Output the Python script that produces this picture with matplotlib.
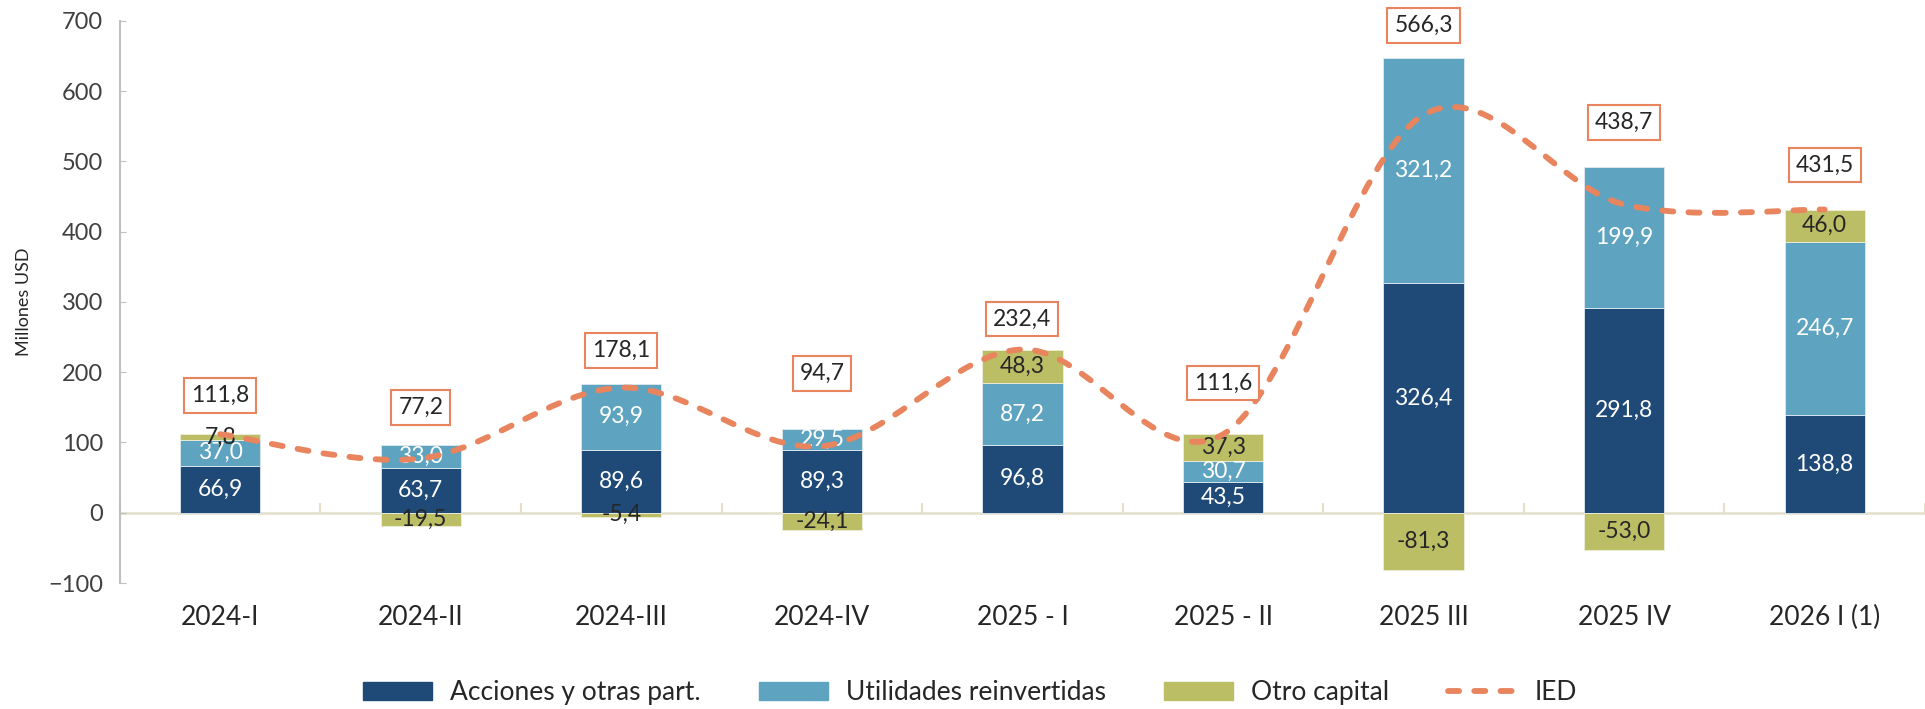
import numpy as np
import matplotlib
matplotlib.use("Agg")
import matplotlib.pyplot as plt
from matplotlib.path import Path
from matplotlib.patches import PathPatch, Patch
from matplotlib.lines import Line2D

plt.rcParams['font.family'] = ['Lato', 'DejaVu Sans']

# --- data ---
periodos = ['2024-I', '2024-II', '2024-III', '2024-IV', '2025 - I', '2025 - II',
            '2025 III', '2025 IV', '2026 I (1)']
acciones = [66.9, 63.7, 89.6, 89.3, 96.8, 43.5, 326.4, 291.8, 138.8]
utilidades = [37.0, 33.0, 93.9, 29.5, 87.2, 30.7, 321.2, 199.9, 246.7]
otro = [7.8, -19.5, -5.4, -24.1, 48.3, 37.3, -81.3, -53.0, 46.0]
ied = [111.8, 77.2, 178.1, 94.7, 232.4, 111.6, 566.3, 438.7, 431.5]

# label box distance above each bar (points)
box_offsets = [30, 29, 26, 42, 24, 39, 25, 34, 34]

c_acc = '#1F4A77'
c_util = '#5EA3BF'
c_otro = '#BCBE66'
c_ied = '#E8845E'
txt = '#262626'

def fmt(v):
    return f'{v:.1f}'.replace('.', ',')

x = np.arange(len(periodos))
acc = np.array(acciones)
uti = np.array(utilidades)
otr = np.array(otro)
w = 0.4

fig = plt.figure(figsize=(19.25, 7.09), dpi=100)
ax = fig.add_axes([0.0623, 0.1777, 0.9377, 0.7928])

ax.bar(x, acc, w, color=c_acc, edgecolor='#dfe8ef', linewidth=0.6, zorder=2)
ax.bar(x, uti, w, bottom=acc, color=c_util, edgecolor='#dfe8ef', linewidth=0.6, zorder=2)
otro_bottom = np.where(otr >= 0, acc + uti, 0)
ax.bar(x, otr, w, bottom=otro_bottom, color=c_otro, edgecolor='#eeeedd', linewidth=0.6, zorder=2)

# segment labels
fs = 16.5
for i in x:
    ax.text(i, acc[i] / 2, fmt(acc[i]), ha='center', va='center', color='white', fontsize=fs, zorder=3)
    ax.text(i, acc[i] + uti[i] / 2, fmt(uti[i]), ha='center', va='center', color='white', fontsize=fs, zorder=3)
    ax.text(i, otro_bottom[i] + otr[i] / 2, fmt(otr[i]), ha='center', va='center', color=txt, fontsize=fs, zorder=3)

# smoothed IED line (Catmull-Rom as cubic Bezier)
pts = np.column_stack([x, ied]).astype(float)
ext = np.vstack([pts[0], pts, pts[-1]])
verts = [tuple(pts[0])]
codes = [Path.MOVETO]
for k in range(len(pts) - 1):
    p0, p1, p2, p3 = ext[k], ext[k + 1], ext[k + 2], ext[k + 3]
    c1 = p1 + (p2 - p0) / 6
    c2 = p2 - (p3 - p1) / 6
    verts += [tuple(c1), tuple(c2), tuple(p2)]
    codes += [Path.CURVE4] * 3
ax.add_patch(PathPatch(Path(verts, codes), fill=False, edgecolor=c_ied, linewidth=4.2,
                       linestyle=(0, (1.9, 2.6)), capstyle='round', zorder=4))

# IED boxed labels
tops = acc + uti + np.clip(otr, 0, None)
for i in x:
    ax.annotate(fmt(ied[i]), (i, tops[i]), xytext=(0, box_offsets[i] - 2), textcoords='offset points',
                ha='center', va='center', fontsize=fs, color=txt, zorder=5,
                bbox=dict(boxstyle='square,pad=0.3', fc='white', ec=c_ied, lw=1.5))

# axes styling
ax.set_xlim(-0.5, len(periodos) - 0.5)
ax.set_ylim(-100, 700)
ax.set_yticks(np.arange(-100, 701, 100))
ax.tick_params(axis='y', direction='in', length=4, color='#BFBFBF', labelsize=17,
               labelcolor='#404040', pad=12)
ax.spines['left'].set_color('#BFBFBF')
ax.spines['left'].set_linewidth(1.5)
ax.spines['top'].set_visible(False)
ax.spines['right'].set_visible(False)
ax.spines['bottom'].set_position(('data', 0))
ax.spines['bottom'].set_color('#E3DFCB')
ax.spines['bottom'].set_linewidth(1.8)
ax.spines['bottom'].set_zorder(1)
ax.set_xticks(np.arange(-0.5, len(periodos), 1.0))
ax.tick_params(axis='x', direction='in', length=7, width=1.5, color='#E3DFCB', labelbottom=False)

sec = ax.secondary_xaxis(0)
sec.set_xticks(x, periodos)
sec.tick_params(length=0, labelsize=19, labelcolor=txt, pad=16)
sec.spines['bottom'].set_visible(False)

ax.set_ylabel('Millones USD', fontsize=13, color=txt, labelpad=12)

handles = [Patch(color=c_acc), Patch(color=c_util), Patch(color=c_otro),
           Line2D([0], [0], color=c_ied, lw=4.2, linestyle=(0, (1.9, 2.6)), dash_capstyle='round')]
labels = ['Acciones y otras part.', 'Utilidades reinvertidas', 'Otro capital', 'IED']
fig.legend(handles, labels, loc='lower center', bbox_to_anchor=(0.504, -0.028), ncol=4,
           frameon=False, fontsize=19, handlelength=2.6, handleheight=0.65,
           columnspacing=2.2, handletextpad=0.7, labelcolor=txt)

fig.savefig('out.png', dpi=100)
